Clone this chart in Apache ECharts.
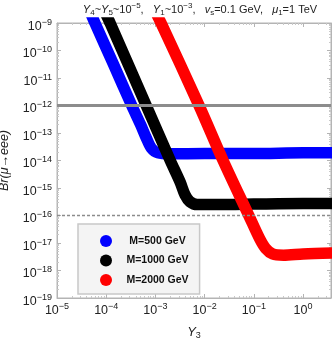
<!DOCTYPE html>
<html>
<head>
<meta charset="utf-8">
<script src="https://cdn.jsdelivr.net/npm/echarts@6/dist/echarts.min.js"></script>
<style>
  html, body { margin: 0; padding: 0; background: #fff; }
  #chart { width: 332px; height: 341px; }
</style>
</head>
<body>
<div id="chart"></div>
<script>
// band centres: Y3 and Br(mu -> eee)
const y3M500 = [5.0e-5, 5.9e-5, 1.4e-4, 3.3e-4, 5.0e-4, 6.6e-4, 8.3e-4, 1.12e-3, 2.0e-3, 1e-2, 0.1, 1, 4];
const brM500 = [2.0e-9, 1e-9, 3.2e-11, 1e-12, 2.0e-13, 6.3e-14, 2.8e-14, 1.9e-14, 1.75e-14, 1.8e-14, 1.8e-14, 1.9e-14, 1.9e-14];

const y3M1000 = [1.0e-4, 1.2e-4, 6.5e-4, 2.0e-3, 3.2e-3, 4.0e-3, 5.0e-3, 7.1e-3, 3.2e-2, 0.1, 1, 4];
const brM1000 = [2.0e-9, 1e-9, 1e-12, 1e-14, 1.6e-15, 5.6e-16, 3.2e-16, 2.5e-16, 2.5e-16, 2.6e-16, 2.75e-16, 2.75e-16];

const y3M2000 = [1.07e-3, 1.3e-3, 7.7e-3, 2.37e-2, 7.9e-2, 0.132, 0.174, 0.24, 0.4, 1, 4];
const brM2000 = [2e-9, 1e-9, 1e-12, 1e-14, 1e-16, 1.4e-17, 6.3e-18, 4.0e-18, 3.6e-18, 4.0e-18, 4.3e-18];

const seriesNames = ['M=500 GeV', 'M=1000 GeV', 'M=2000 GeV'];
const seriesColors = ['#0000ff', '#000000', '#ff0000'];

// axis ranges
const y3Range = [1e-5, 3.7];
const brRange = [1e-19, 1e-9];

// experimental bounds (solid: current, dashed: future)
const boundNow = 1e-12;
const boundFuture = 1e-16;

const FONT = '"Liberation Sans", Arial, sans-serif';

const chart = echarts.init(document.getElementById('chart'));

// 10^n labels
function powLabel(v) {
  const e = Math.round(Math.log10(v));
  return '10{sup|' + (e < 0 ? '\u2212' + (-e) : e) + '}';
}

const tickRich = {
  sup: { fontSize: 9, lineHeight: 9, verticalAlign: 'top', color: '#222', fontFamily: FONT }
};

function pairs(xs, ys) {
  return xs.map((x, i) => [x, ys[i]]);
}

function band(name, color, xs, ys) {
  return {
    name: name,
    type: 'line',
    color: color,
    data: pairs(xs, ys),
    showSymbol: false,
    smooth: 0.3,
    clip: true,
    z: 2,
    lineStyle: { width: 11.5, color: color, cap: 'butt', join: 'round' },
    silent: true
  };
}

function boundLine(level, width, dash) {
  return {
    type: 'line',
    data: [[y3Range[0], level], [y3Range[1], level]],
    showSymbol: false,
    silent: true,
    z: 4,
    lineStyle: { color: '#8c8c8c', width: width, type: dash }
  };
}

const frameAxis = {
  type: 'log',
  logBase: 10,
  interval: 1,
  axisLine: { show: true, lineStyle: { color: '#b4b4b4', width: 1 } },
  axisTick: { show: true, inside: true, length: 4, lineStyle: { color: '#b4b4b4' } },
  minorTick: { show: true, splitNumber: 9, length: 2, lineStyle: { color: '#c8c8c8' } },
  splitLine: { show: false }
};

const option = {
  animation: false,
  backgroundColor: '#fff',
  title: {
    text: '{i|Y}{sub|4}~{i|Y}{sub|5}~10{sup|\u22125},   {i|Y}{sub|1}~10{sup|\u22123},   {i|v}{sub|s}=0.1 GeV,   {i|\u03bc}{sub|1}=1 TeV',
    left: 195,
    textAlign: 'center',
    top: -3,
    textStyle: {
      fontFamily: FONT, fontSize: 11, fontWeight: 'normal', color: '#222', lineHeight: 15,
      rich: {
        i: { fontFamily: FONT, fontSize: 11, fontStyle: 'italic', color: '#222', lineHeight: 15 },
        sub: { fontFamily: FONT, fontSize: 8, color: '#222', lineHeight: 8, verticalAlign: 'bottom' },
        sup: { fontFamily: FONT, fontSize: 8, color: '#222', lineHeight: 8, verticalAlign: 'top' }
      }
    }
  },
  grid: {
    left: 57, right: 1, top: 23, bottom: 43,
    outerBoundsMode: 'none',
    show: true, borderColor: '#b4b4b4', borderWidth: 1
  },
  legend: {
    orient: 'vertical',
    left: 78,
    top: 224,
    data: seriesNames,
    icon: 'circle',
    itemWidth: 31,
    itemHeight: 12,
    itemGap: 7.5,
    padding: [11, 11, 8, 22],
    backgroundColor: '#f4f4f4',
    borderColor: '#c8c8c8',
    borderWidth: 1.5,
    selectedMode: false,
    formatter: '{c|{name}}',
    textStyle: {
      rich: {
        c: { width: 62, align: 'center', fontFamily: FONT, fontSize: 10.5, fontWeight: 'bold', color: '#111', lineHeight: 12 }
      }
    }
  },
  xAxis: [
    Object.assign({}, frameAxis, {
      position: 'bottom',
      min: y3Range[0],
      max: y3Range[1],
      name: '{i|Y}{sub|3}',
      nameLocation: 'middle',
      nameGap: 26,
      nameTextStyle: {
        fontFamily: FONT, fontSize: 13, color: '#222', lineHeight: 16,
        rich: {
          i: { fontFamily: FONT, fontSize: 13, fontStyle: 'italic', color: '#222', lineHeight: 16 },
          sub: { fontFamily: FONT, fontSize: 9, color: '#222', lineHeight: 9, verticalAlign: 'bottom' }
        }
      },
      axisLabel: {
        margin: 4,
        showMaxLabel: false,
        formatter: powLabel,
        fontFamily: FONT, fontSize: 12.5, color: '#222', lineHeight: 17,
        rich: tickRich
      }
    }),
    Object.assign({}, frameAxis, {
      position: 'top',
      min: y3Range[0],
      max: y3Range[1],
      axisLabel: { show: false }
    })
  ],
  yAxis: [
    Object.assign({}, frameAxis, {
      position: 'left',
      min: brRange[0],
      max: brRange[1],
      name: 'Br(\u03bc\u2192eee)',
      nameLocation: 'middle',
      nameGap: 46,
      nameTextStyle: { fontFamily: FONT, fontSize: 12.5, fontStyle: 'italic', color: '#222' },
      axisLabel: {
        margin: 5,
        padding: [7, 0, 0, 0],
        formatter: powLabel,
        fontFamily: FONT, fontSize: 12.5, color: '#222', lineHeight: 17,
        rich: tickRich
      }
    }),
    Object.assign({}, frameAxis, {
      position: 'right',
      min: brRange[0],
      max: brRange[1],
      axisLabel: { show: false }
    })
  ],
  series: [
    band(seriesNames[0], seriesColors[0], y3M500, brM500),
    band(seriesNames[1], seriesColors[1], y3M1000, brM1000),
    band(seriesNames[2], seriesColors[2], y3M2000, brM2000),
    boundLine(boundNow, 3, 'solid'),
    boundLine(boundFuture, 1.5, [3, 2])
  ]
};

chart.setOption(option);
</script>
</body>
</html>
